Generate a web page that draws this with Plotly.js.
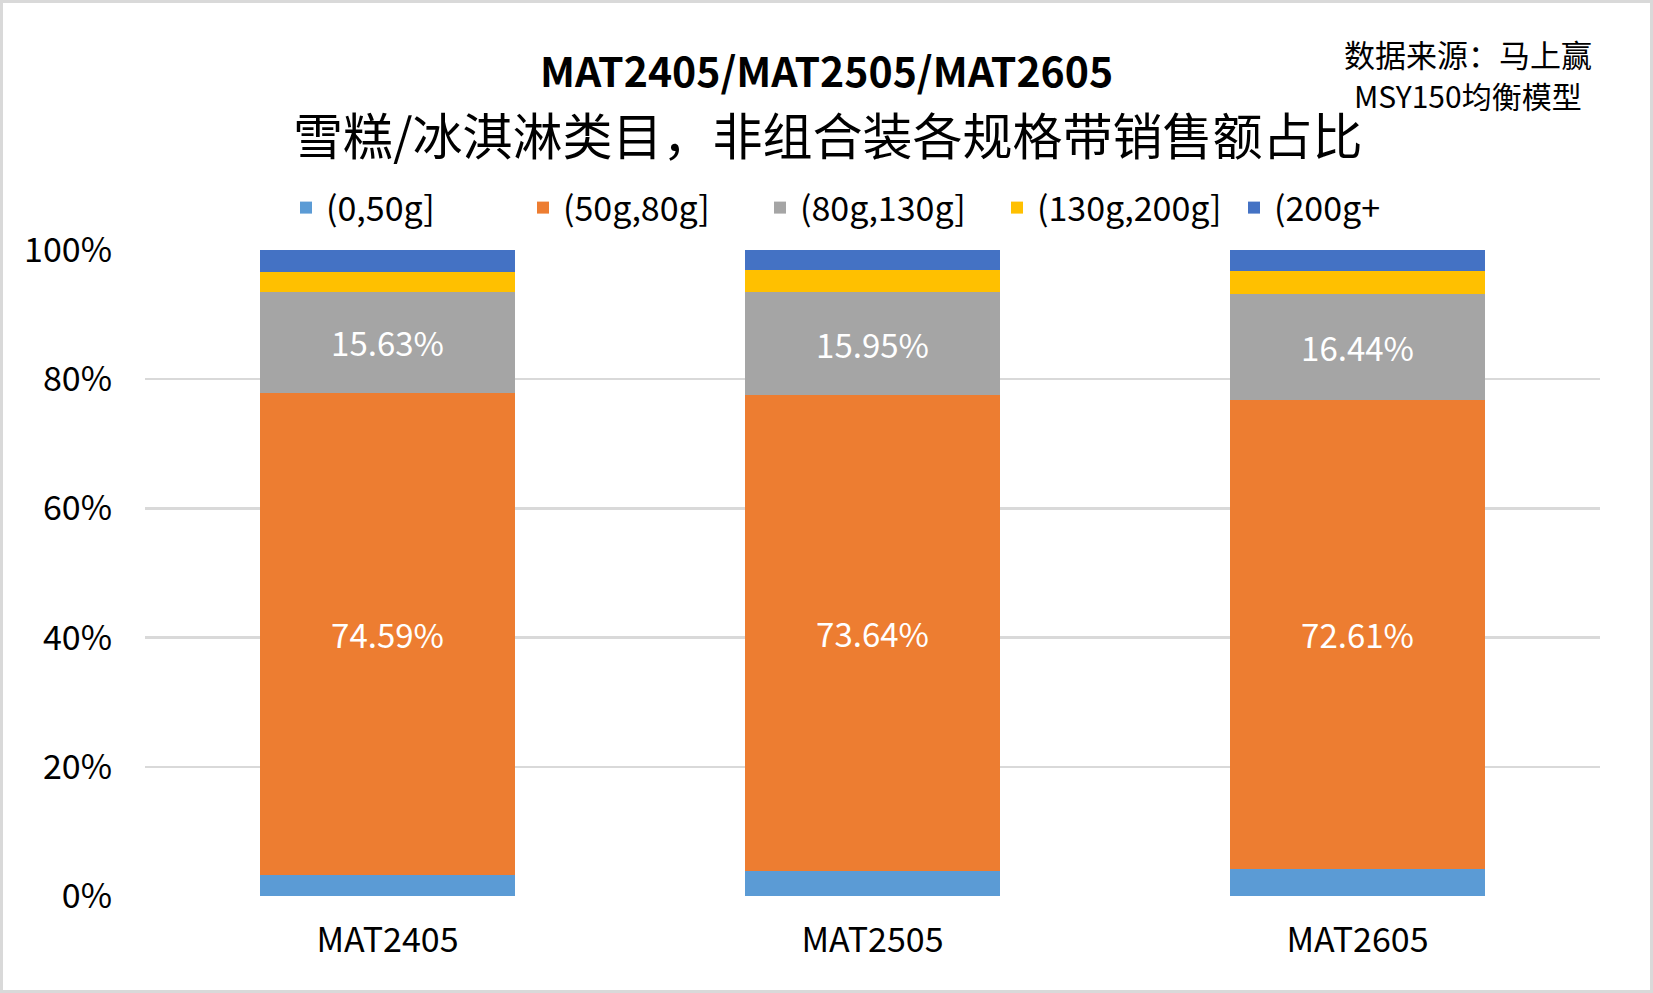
<!DOCTYPE html>
<html>
<head>
<meta charset="utf-8">
<script src="https://cdn.plot.ly/plotly-3.0.1.min.js"></script>
<style>
    body { margin: 0; background: #fff; }
    #wrap { position: relative; width: 1653px; height: 993px; }
    #chart { width: 1653px; height: 993px; }
    #frame { position: absolute; left: 0; top: 0; width: 1653px; height: 993px;
             box-sizing: border-box; border: 3px solid #d9d9d9; pointer-events: none; }
</style>
</head>
<body>
<div id="wrap">
    <div id="chart"></div>
    <div id="frame"></div>
</div>
<script>
// categories and shares
let categories = ["MAT2405", "MAT2505", "MAT2605"];
let seriesNames = ["(0,50g]", "(50g,80g]", "(80g,130g]", "(130g,200g]", "(200g+"];
let share0to50 = [0.033, 0.0385, 0.042];
let share50to80 = [0.7459, 0.7364, 0.7261];
let share80to130 = [0.1563, 0.1595, 0.1644];
let share130to200 = [0.031, 0.0345, 0.035];
let share200plus = [0.0338, 0.0311, 0.0325];
let yTickValues = [0, 0.2, 0.4, 0.6, 0.8, 1];

let colors = ["#5B9BD5", "#ED7D31", "#A5A5A5", "#FFC000", "#4472C4"];
let font = '"Noto Sans CJK SC", "Noto Sans", sans-serif';

// plot area in page pixels, used to place the titles
let plotLeft = 145, plotRight = 1600, plotTop = 250, plotBottom = 896;
function paperX(px){
    return (px - plotLeft) / (plotRight - plotLeft);
}
function paperY(py){
    return (plotBottom - py) / (plotBottom - plotTop);
}

function labels(values){
    return values.map(function(v){
        return (v * 100).toFixed(2) + "%";
    });
}

let allSeries = [share0to50, share50to80, share80to130, share130to200, share200plus];
let data = allSeries.map(function(values, i){
    let trace = {
        x: categories,
        y: values,
        name: seriesNames[i],
        type: "bar",
        marker: {color: colors[i]},
        hoverinfo: "none"
    };
    if(i === 1 || i === 2){
        trace.text = labels(values);
        trace.textposition = "inside";
        trace.insidetextanchor = "middle";
        trace.textangle = 0;
        trace.textfont = {family: font, size: 33, color: "#ffffff"};
    }else{
        trace.textposition = "none";
    }
    return trace;
});

let layout = {
    width: 1653,
    height: 993,
    margin: {l: plotLeft, r: 1653 - plotRight, t: plotTop, b: 993 - plotBottom, pad: 0},
    paper_bgcolor: "#ffffff",
    plot_bgcolor: "#ffffff",
    barmode: "stack",
    bargap: 0.474,
    font: {family: font, color: "#000000"},
    showlegend: true,
    legend: {
        orientation: "h",
        traceorder: "normal",
        x: paperX(286),
        xanchor: "left",
        y: paperY(208),
        yanchor: "middle",
        entrywidth: 192,
        entrywidthmode: "pixels",
        font: {family: font, size: 34, color: "#000000"},
        itemclick: false
    },
    xaxis: {
        type: "category",
        showgrid: false,
        showline: false,
        zeroline: false,
        ticks: "",
        ticklabelstandoff: 21,
        tickfont: {family: font, size: 34, color: "#000000"}
    },
    yaxis: {
        range: [0, 1],
        tickvals: yTickValues,
        tickformat: ".0%",
        showgrid: true,
        gridcolor: "#d9d9d9",
        gridwidth: 2.5,
        zeroline: false,
        showline: false,
        ticks: "",
        ticklabelstandoff: 32,
        tickfont: {family: font, size: 34, color: "#000000"}
    },
    annotations: [
        {
            text: "<b>MAT2405/MAT2505/MAT2605</b>",
            xref: "paper", yref: "paper",
            x: paperX(826), y: paperY(69),
            xanchor: "center", yanchor: "middle",
            showarrow: false,
            font: {family: font, size: 41, color: "#000000"}
        },
        {
            text: "雪糕/冰淇淋类目，非组合装各规格带销售额占比",
            xref: "paper", yref: "paper",
            x: paperX(828), y: paperY(133),
            xanchor: "center", yanchor: "middle",
            showarrow: false,
            font: {family: font, size: 50, color: "#000000"}
        },
        {
            text: "数据来源：马上赢",
            xref: "paper", yref: "paper",
            x: paperX(1468), y: paperY(53),
            xanchor: "center", yanchor: "middle",
            showarrow: false,
            font: {family: font, size: 31, color: "#000000"}
        },
        {
            text: "MSY150均衡模型",
            xref: "paper", yref: "paper",
            x: paperX(1468), y: paperY(95),
            xanchor: "center", yanchor: "middle",
            showarrow: false,
            font: {family: font, size: 30, color: "#000000"}
        }
    ]
};

Plotly.newPlot("chart", data, layout, {staticPlot: true, displayModeBar: false});
</script>
</body>
</html>
